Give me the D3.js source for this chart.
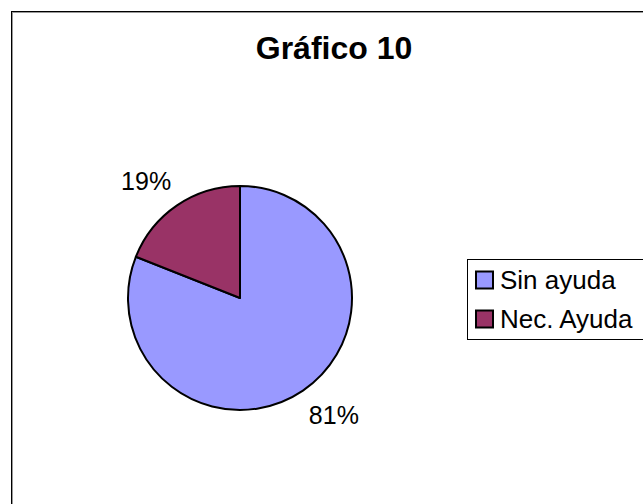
<!DOCTYPE html>
<html lang="es">
<head>
  <meta charset="utf-8">
  <script src="https://d3js.org/d3.v7.min.js"></script>
  <style>
    body { margin: 0; background: #fff; }
    text { font-family: Arial, "Liberation Sans", sans-serif; fill: #000; }
  </style>
</head>
<body>
  <script>
    // data
    var categories = ["Sin ayuda", "Nec. Ayuda"];
    var values = [81, 19];
    var colors = ["#9999FF", "#993366"];
    var title = "Gráfico 10";

    var width = 643, height = 504;
    var cx = 240, cy = 298, radius = 112;

    var svg = d3.select("body").append("svg")
      .attr("width", width)
      .attr("height", height);

    // chart frame (runs off the right and bottom of the picture)
    svg.append("rect")
      .attr("x", 12.5)
      .attr("y", 12.5)
      .attr("width", 700)
      .attr("height", 600)
      .attr("fill", "#fff")
      .attr("stroke", "#999")
      .attr("stroke-width", 1);
    svg.append("rect")
      .attr("x", 11.5)
      .attr("y", 11.5)
      .attr("width", 700)
      .attr("height", 600)
      .attr("fill", "none")
      .attr("stroke", "#000")
      .attr("stroke-width", 1);

    svg.append("text")
      .attr("x", 334)
      .attr("y", 59)
      .attr("text-anchor", "middle")
      .style("font-weight", "bold")
      .style("font-size", "32px")
      .text(title);

    var data = categories.map((c, i) => ({name: c, value: values[i], color: colors[i]}));

    var pie = d3.pie().sort(null).value(d => d.value);
    var arc = d3.arc().innerRadius(0).outerRadius(radius);
    var unitArc = d3.arc().innerRadius(1).outerRadius(1);

    var g = svg.append("g")
      .attr("transform", "translate(" + [cx, cy] + ")");

    var arcs = pie(data);

    g.selectAll("path")
      .data(arcs)
      .enter().append("path")
        .attr("d", arc)
        .attr("fill", d => d.data.color)
        .attr("stroke", "#000")
        .attr("stroke-width", 2)
        .attr("stroke-linejoin", "round");

    // labels sit outside the pie; wider offset horizontally for the text box
    var total = d3.sum(values);
    g.selectAll("text.pct")
      .data(arcs)
      .enter().append("text")
        .attr("class", "pct")
        .attr("transform", function(d) {
          var c = unitArc.centroid(d);
          return "translate(" + [c[0] * 167, c[1] * 141] + ")";
        })
        .attr("text-anchor", "middle")
        .attr("dy", "0.36em")
        .style("font-size", "25px")
        .text(d => Math.round(d.data.value / total * 100) + "%");

    // legend
    var legend = svg.append("g")
      .attr("transform", "translate(" + [467.5, 259.5] + ")");

    legend.append("rect")
      .attr("width", 220)
      .attr("height", 80)
      .attr("fill", "#fff")
      .attr("stroke", "#000")
      .attr("stroke-width", 1);

    var item = legend.selectAll("g.item")
      .data(data)
      .enter().append("g")
        .attr("class", "item")
        .attr("transform", (d, i) => "translate(" + [8.5, 12 + i * 39] + ")");

    item.append("rect")
      .attr("width", 17)
      .attr("height", 17)
      .attr("fill", d => d.color)
      .attr("stroke", "#000")
      .attr("stroke-width", 2);

    item.append("text")
      .attr("x", 24)
      .attr("y", 17)
      .style("font-size", "26px")
      .text(d => d.name);
  </script>
</body>
</html>
